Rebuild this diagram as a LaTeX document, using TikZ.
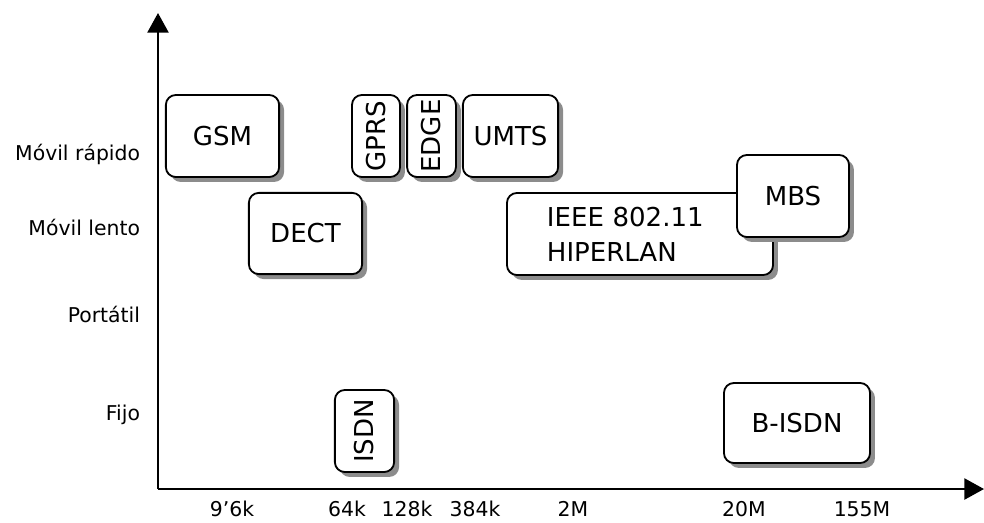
\documentclass[tikz,border=0pt]{standalone}
\usepackage{fontspec}
\setmainfont{DejaVu Sans}
\usetikzlibrary{arrows.meta,shadows}

\tikzset{
  tech/.style={draw, line width=1.3pt, rounded corners=7pt, fill=white,
    drop shadow={shadow xshift=3.5pt, shadow yshift=-3.5pt, fill=black!45, opacity=1},
    font=\fontsize{18.5}{25}\selectfont, minimum height=2.05cm, inner sep=0pt},
  nivel/.style={anchor=base east, font=\fontsize{14.5}{17}\selectfont},
  tasa/.style={anchor=base, inner sep=1pt, font=\fontsize{14.5}{17}\selectfont},
  axis/.style={line width=1.6pt, -{Triangle[length=14pt,width=15pt]}}
}

\begin{document}
\begin{tikzpicture}[x=0.025cm,y=-0.025cm]
\useasboundingbox (0,0) rectangle (984,522);

% Draw the axes
\coordinate (O) at (158,489);
\coordinate (ytop) at (158,13);
\coordinate (xend) at (984,489);
\draw[axis] (O) -- (ytop);
\draw[axis] (O) -- (xend);

% Labels on the vertical axis
\node[nivel] (rapido) at (145,160) {Móvil rápido};
\node[nivel] (lento) at (145,235) {Móvil lento};
\node[nivel] (portatil) at (145,322) {Portátil};
\node[nivel] (fijo) at (145,420) {Fijo};

% Labels on the horizontal axis
\node[tasa] (k96) at (232,516) {9'6k};
\node[tasa] (k64) at (347,516) {64k};
\node[tasa] (k128) at (407,516) {128k};
\node[tasa] (k384) at (475,516) {384k};
\node[tasa] (M2) at (573,516) {2M};
\node[tasa] (M20) at (744,516) {20M};
\node[tasa] (M155) at (862,516) {155M};

% The systems
\node[tech, minimum width=2.83cm] (gsm) at (222.5,136) {GSM};
\node[tech, minimum width=1.2cm] (gprs) at (376,136) {\rotatebox{90}{GPRS}};
\node[tech, minimum width=1.22cm] (edge) at (431.5,136) {\rotatebox{90}{EDGE}};
\node[tech, minimum width=2.38cm] (umts) at (510.5,136) {UMTS};
\node[tech, minimum width=2.83cm, minimum height=2.03cm] (dect) at (305.5,233.5) {DECT};
\node[tech, text width=4.65cm, inner xsep=1cm, align=left] (wlan) at (640,234) {IEEE 802.11\\HIPERLAN};
\node[tech, minimum width=2.8cm] (mbs) at (793,196) {MBS};
\node[tech, minimum width=1.48cm] (isdn) at (364.5,431) {\rotatebox{90}{ISDN}};
\node[tech, minimum width=3.65cm, minimum height=2cm] (bisdn) at (797,423) {B-ISDN};

\end{tikzpicture}
\end{document}
